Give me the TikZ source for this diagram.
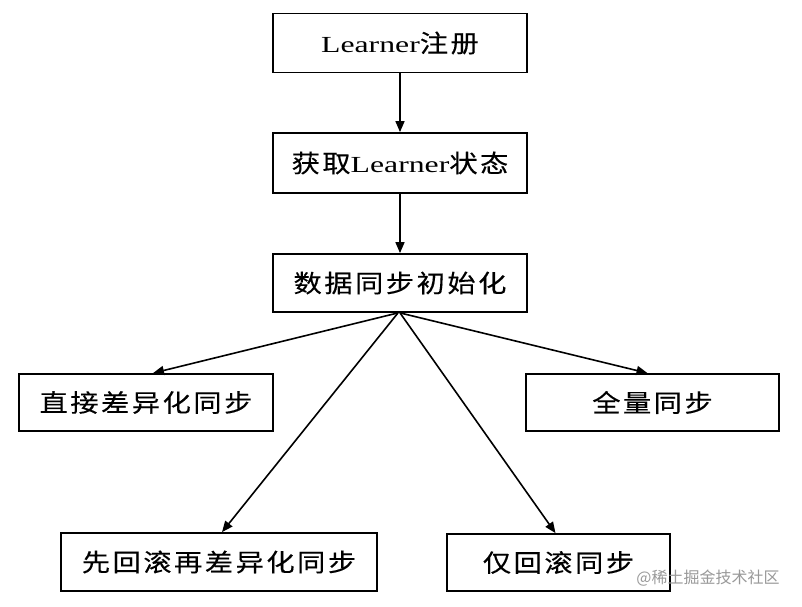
\documentclass[tikz,border=0pt]{standalone}
\usepackage{fontspec}
\setmainfont{Liberation Serif}[FakeStretch=1.38]
\newfontfamily\cjk{Noto Sans CJK SC}[FakeStretch=1.15,LetterSpace=10,Scale=1.07,FakeBold=0.2]
\newfontfamily\wmfont{Noto Sans CJK SC}
\usetikzlibrary{arrows.meta}
\begin{document}
\begin{tikzpicture}[x=1pt,y=-1pt,
  box/.style={draw=black,line width=1.8pt,inner sep=0pt,minimum width=254pt,minimum height=59pt,
    font=\fontsize{23}{26}\selectfont},
  conn/.style={draw=black,line width=1.6pt,-{Triangle[length=11pt,width=9pt]}},
  wm/.style={text=black!40,font=\wmfont\fontsize{16}{18}\selectfont,inner sep=0pt}]
\useasboundingbox (0,0) rectangle (802,606);
\fill[white] (0,0) rectangle (802,606);
\node[box] (b1) at (400,43) {Learner{\cjk 注册}};
\node[box,minimum height=60pt] (b2) at (400,163) {{\cjk 获取}Learner{\cjk 状态}};
\node[box,minimum height=58pt] (b3) at (400,283) {\cjk 数据同步初始化};
\node[box,minimum height=57pt] (b4) at (146,402.5) {\cjk 直接差异化同步};
\node[box,minimum width=253pt,minimum height=57pt] (b5) at (652.5,402.5) {\cjk 全量同步};
\node[box,minimum width=316pt,minimum height=58pt] (b6) at (219,562) {\cjk 先回滚再差异化同步};
\node[box,minimum width=223pt,minimum height=57pt] (b7) at (558.5,562.5) {\cjk 仅回滚同步};
\draw[conn] (b1.south) -- (b2.north);
\draw[conn] (b2.south) -- (b3.north);
\draw[conn] ([xshift=-2pt]b3.south) -- ([xshift=7pt]b4.north);
\draw[conn] ([xshift=-2pt]b3.south) -- ([xshift=3pt]b6.north);
\draw[conn] (b3.south) -- ([xshift=-3pt]b7.north);
\draw[conn] (b3.south) -- ([xshift=-5pt]b5.north);
\node[wm] (wm) at (708,578) {@稀土掘金技术社区};
\end{tikzpicture}
\end{document}
